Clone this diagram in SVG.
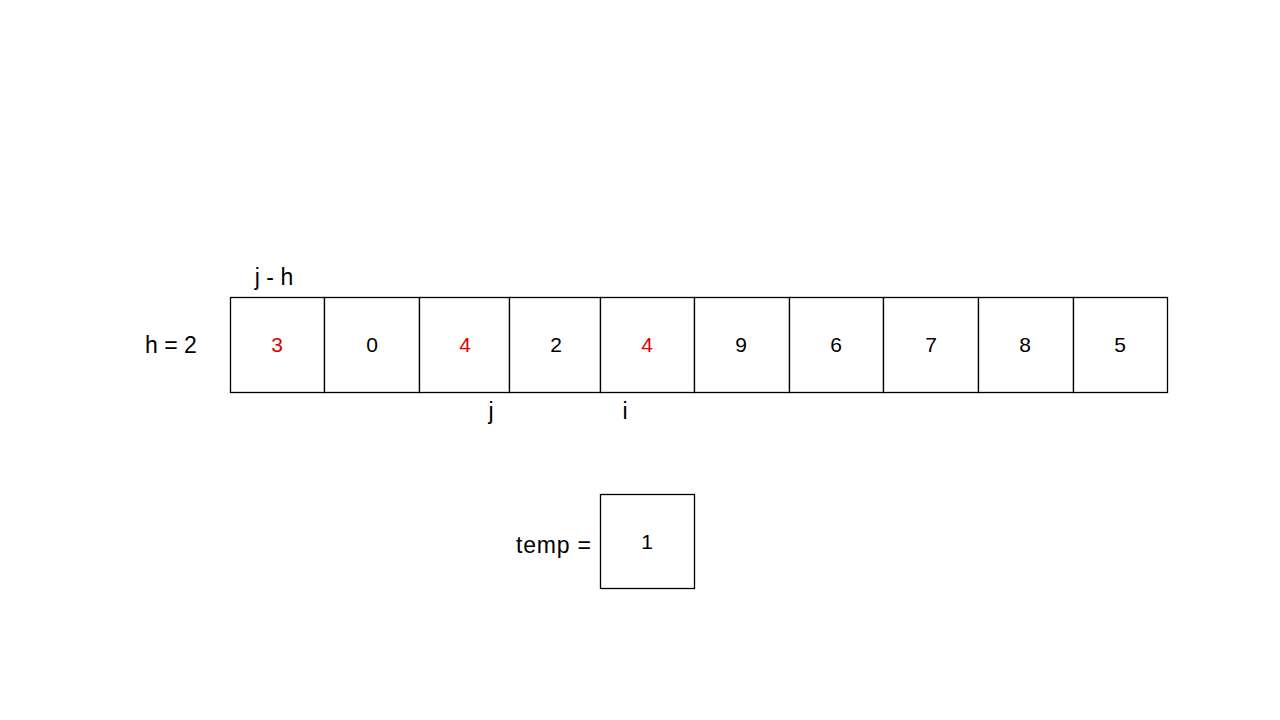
<svg xmlns="http://www.w3.org/2000/svg" width="1280" height="720" viewBox="0 0 1280 720">
<style>
.cell{fill:#fff;stroke:#000;stroke-width:1.3}
.v{font-family:"Liberation Sans",Arial,sans-serif;font-size:21px;text-anchor:middle;fill:#000}
.r{fill:#e00000}
.lbl{font-family:"Liberation Sans",Arial,sans-serif;font-size:23px;fill:#000}
</style>
<rect width="1280" height="720" fill="#fff"/>
<g id="labels">
<text class="lbl" x="145" y="353">h = 2</text>
<text class="lbl" x="274" y="285" text-anchor="middle">j - h</text>
<text class="lbl" x="491" y="419" text-anchor="middle">j</text>
<text class="lbl" x="625" y="419" text-anchor="middle">i</text>
<text class="lbl" x="591" y="553" text-anchor="end" textLength="75" lengthAdjust="spacing">temp =</text>
</g>
<g id="array">
<g id="c0"><rect class="cell" x="230.5" y="297.5" width="94" height="95"/><text class="v r" x="277" y="352">3</text></g>
<g id="c1"><rect class="cell" x="324.5" y="297.5" width="95" height="95"/><text class="v" x="372" y="352">0</text></g>
<g id="c2"><rect class="cell" x="419.5" y="297.5" width="90" height="95"/><text class="v r" x="465" y="352">4</text></g>
<g id="c3"><rect class="cell" x="509.5" y="297.5" width="91" height="95"/><text class="v" x="556" y="352">2</text></g>
<g id="c4"><rect class="cell" x="600.5" y="297.5" width="94" height="95"/><text class="v r" x="647" y="352">4</text></g>
<g id="c5"><rect class="cell" x="694.5" y="297.5" width="95" height="95"/><text class="v" x="741" y="352">9</text></g>
<g id="c6"><rect class="cell" x="789.5" y="297.5" width="94" height="95"/><text class="v" x="836" y="352">6</text></g>
<g id="c7"><rect class="cell" x="883.5" y="297.5" width="95" height="95"/><text class="v" x="931" y="352">7</text></g>
<g id="c8"><rect class="cell" x="978.5" y="297.5" width="95" height="95"/><text class="v" x="1025" y="352">8</text></g>
<g id="c9"><rect class="cell" x="1073.5" y="297.5" width="94" height="95"/><text class="v" x="1120" y="352">5</text></g>
</g>
<g id="temp"><rect class="cell" x="600.5" y="494.5" width="94" height="94"/><text class="v" x="647" y="549">1</text></g>
<g id="connectors"></g>
</svg>
